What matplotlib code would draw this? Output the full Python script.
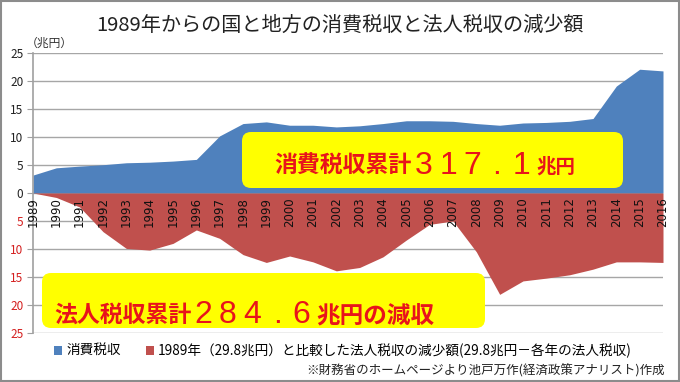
import matplotlib
matplotlib.use('Agg')
import matplotlib.pyplot as plt
from matplotlib.patches import FancyBboxPatch, Rectangle, Patch
from matplotlib.transforms import IdentityTransform

plt.rcParams['font.family'] = ['Noto Sans CJK JP', 'DejaVu Sans']

# ---- data ----
years = list(range(1989, 2017))
consumption_tax = [3.2, 4.5, 4.8, 5.05, 5.4, 5.5, 5.7, 6.0, 10.2, 12.4, 12.7, 12.1, 12.1, 11.8,
                   12.0, 12.4, 12.9, 12.9, 12.8, 12.4, 12.1, 12.5, 12.6, 12.8, 13.3, 19.1, 22.1, 21.8]
corp_tax_decrease = [0.0, 0.8, 2.5, 6.9, 9.9, 10.2, 9.0, 6.6, 8.1, 11.0, 12.4, 11.25, 12.3, 13.9,
                     13.3, 11.4, 8.4, 5.6, 5.0, 10.5, 18.1, 15.7, 15.2, 14.6, 13.6, 12.3, 12.3, 12.4]
y_ticks = [25, 20, 15, 10, 5, 0, -5, -10, -15, -20, -25]
series_names = ['消費税収', '1989年（29.8兆円）と比較した法人税収の減少額(29.8兆円－各年の法人税収)']
title = '1989年からの国と地方の消費税収と法人税収の減少額'
unit_label = '（兆円）'
footnote = '※財務省のホームページより池戸万作(経済政策アナリスト)作成'
box1_pieces = ['消費税収累計', '317.1', '兆円']
box2_pieces = ['法人税収累計', '284.6', '兆円の減収']

BLUE = '#4F81BD'
RED = '#C0504D'
TXT_RED = '#E8141B'
W, H = 680, 382

fig = plt.figure(figsize=(6.8, 3.82), dpi=100)
fig.patch.set_facecolor('white')

ax = fig.add_axes([33 / W, 1 - 333 / H, 630 / W, 280 / H])
x = list(range(len(years)))
neg = [-v for v in corp_tax_decrease]
ax.fill_between(x, 0, consumption_tax, color=BLUE, lw=0, zorder=2)
ax.fill_between(x, 0, neg, color=RED, lw=0, zorder=2)

ax.set_xlim(0, len(years) - 1)
ax.set_ylim(-25, 25)
ax.set_yticks(y_ticks)
ax.set_yticklabels([str(abs(v)) for v in y_ticks], fontsize=8.5)
for v, lab in zip(y_ticks, ax.get_yticklabels()):
    lab.set_color('#D42020' if v < 0 else '#222222')
ax.tick_params(axis='y', length=4, color='#A0A0A0', pad=3)
ax.set_xticks([])
ax.grid(axis='y', color='#A6A6A6', lw=1, zorder=0)
ax.set_axisbelow(True)
for s in ['top', 'right', 'bottom']:
    ax.spines[s].set_visible(False)
ax.spines['left'].set_color('#A0A0A0')
ax.spines['left'].set_linewidth(1.2)

for i, yr in enumerate(years):
    ax.annotate(str(yr), (i, 0), xytext=(0, -3), textcoords='offset points',
                rotation=90, ha='center', va='top', fontsize=8.5, color='#111111',
                family=['DejaVu Sans'], zorder=5)

fig.text(0.5, 1 - 25 / H, title, ha='center', va='center', fontsize=14.5, color='#222222')
fig.text(26 / W, 1 - 43 / H, unit_label, ha='left', va='center', fontsize=8.5, color='#333333')

handles = [Patch(facecolor=BLUE), Patch(facecolor=RED)]
fig.legend(handles, series_names, ncol=2, loc='center', bbox_to_anchor=(343 / W, 1 - 351 / H),
           frameon=False, handlelength=0.6, handleheight=0.6, handletextpad=0.3,
           columnspacing=1.8, fontsize=9.8)
fig.text(665 / W, 1 - 371 / H, footnote, ha='right', va='center', fontsize=9, color='#222222')

# border
fig.add_artist(Rectangle((0.001, 0.002), 0.997, 0.995, transform=fig.transFigure,
                         fill=False, edgecolor='#8C8C8C', lw=1.5))

# yellow boxes
def ybox(x0, y0, x1, y1):
    p = FancyBboxPatch((x0, H - y1), x1 - x0, y1 - y0,
                       boxstyle='round,pad=0,rounding_size=9',
                       transform=IdentityTransform(), facecolor='#FFFF00',
                       edgecolor='none', zorder=10)
    fig.add_artist(p)

ybox(242, 132, 623, 188)
ybox(42, 273, 485, 328)

renderer = fig.canvas.get_renderer()

def chain(pieces, sizes, x0, ybase, cell=24.5, gap=3):
    xx = x0
    lab, num, unit = pieces
    t = fig.text(xx / W, 1 - ybase / H, lab, fontsize=sizes[0], fontweight='bold',
                 color=TXT_RED, ha='left', va='baseline', zorder=11)
    xx += t.get_window_extent(renderer).width
    # number drawn in fixed-pitch cells (full-width style)
    for ch in num:
        fig.text((xx + cell / 2) / W, 1 - (ybase + 1) / H, ch, fontsize=sizes[1],
                 family=['Liberation Sans'], color=TXT_RED, ha='center', va='baseline',
                 zorder=11)
        xx += cell
    xx += gap
    fig.text(xx / W, 1 - ybase / H, unit, fontsize=sizes[2], fontweight='bold',
             color=TXT_RED, ha='left', va='baseline', zorder=11)

chain(box1_pieces, [16.5, 23, 14], 274, 173)
chain(box2_pieces, [16.5, 23, 17], 54, 322)

fig.savefig('out.png', dpi=100)
